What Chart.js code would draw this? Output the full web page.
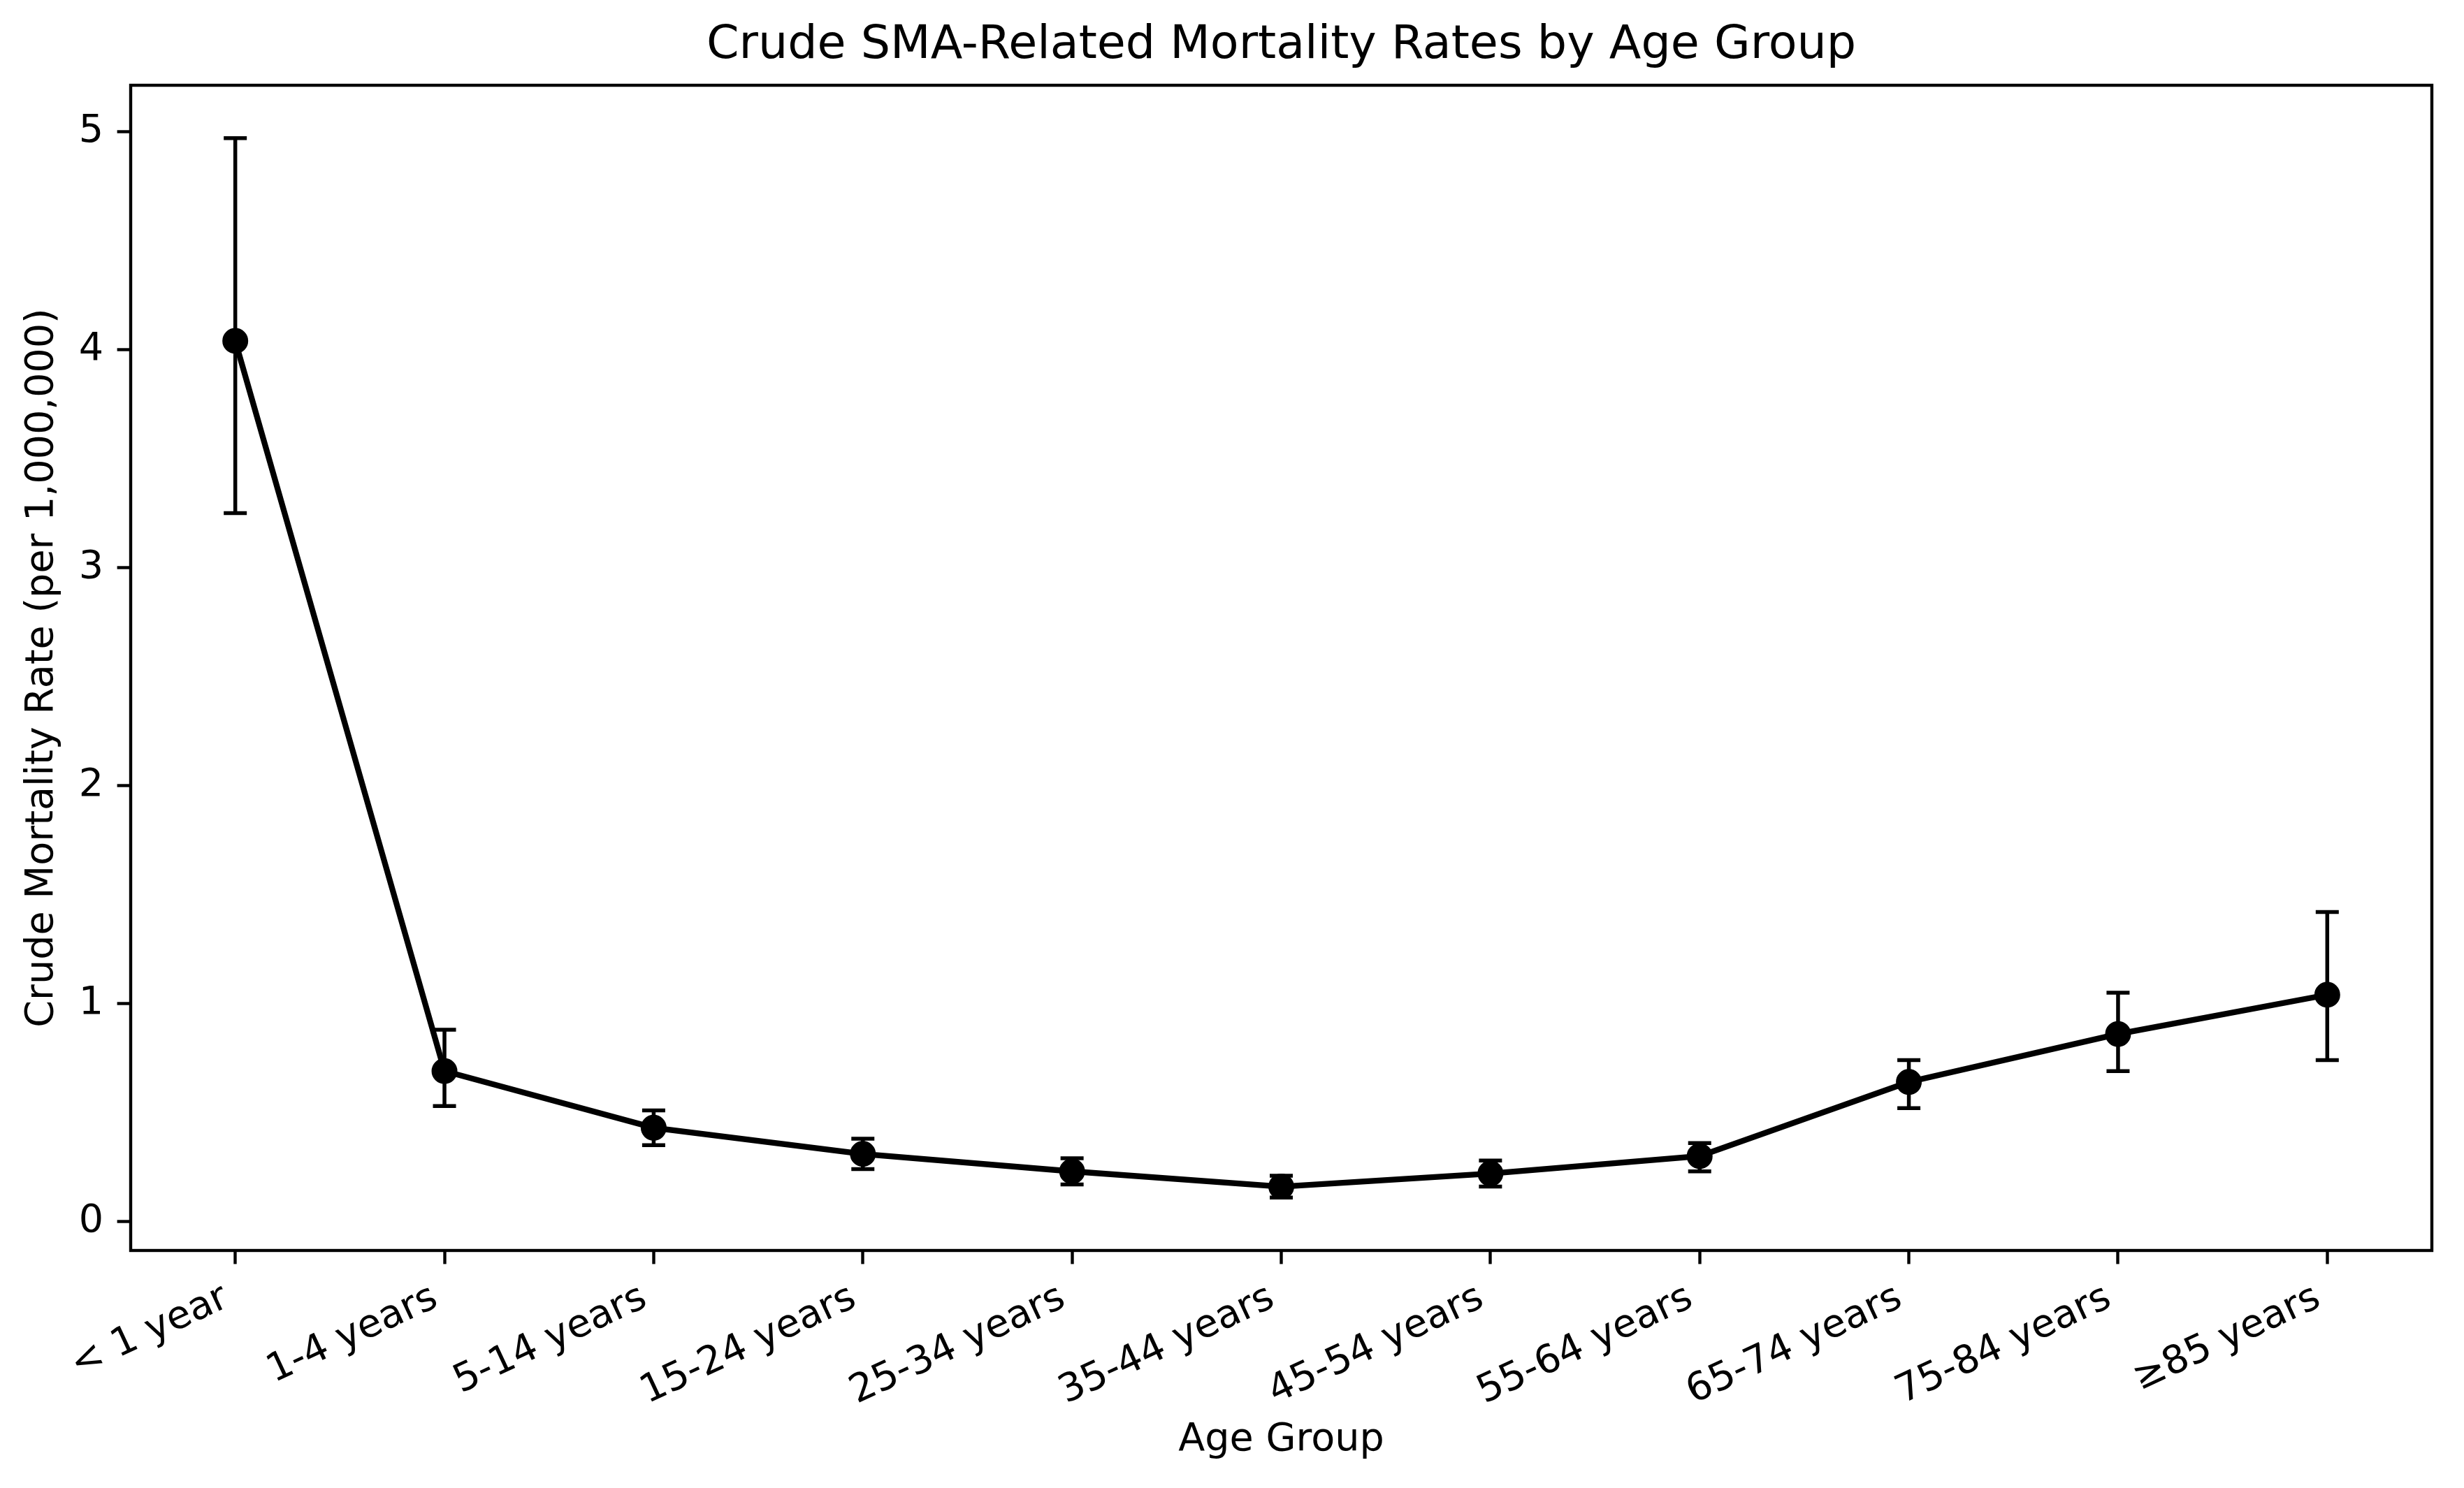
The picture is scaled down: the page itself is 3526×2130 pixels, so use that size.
<!DOCTYPE html>
<html>
<head>
<meta charset="utf-8">
<title>Crude SMA-Related Mortality Rates by Age Group</title>
<script src="https://cdn.jsdelivr.net/npm/chart.js@4.4.1/dist/chart.umd.min.js"></script>
<style>
  html, body { margin: 0; padding: 0; background: #fff; }
  #wrap { width: 3526px; height: 2130px; }
</style>
</head>
<body>
<div id="wrap"><canvas id="rateChart"></canvas></div>
<script>
// values
const ageGroups = ['< 1 year', '1-4 years', '5-14 years', '15-24 years', '25-34 years', '35-44 years',
                   '45-54 years', '55-64 years', '65-74 years', '75-84 years', '\u226585 years'];
const crudeRate = [4.04, 0.69, 0.43, 0.31, 0.23, 0.16, 0.22, 0.30, 0.64, 0.86, 1.04];
const lowerCI   = [3.25, 0.53, 0.35, 0.24, 0.17, 0.11, 0.16, 0.23, 0.52, 0.69, 0.74];
const upperCI   = [4.97, 0.88, 0.51, 0.38, 0.29, 0.21, 0.28, 0.36, 0.74, 1.05, 1.42];
const yTicks = [0, 1, 2, 3, 4, 5];

const FONT = "'DejaVu Sans', sans-serif";
Chart.defaults.font.family = FONT;
Chart.defaults.color = '#000';

// axis limits like matplotlib: 5% margin around the error bars
const lo = Math.min(...lowerCI);
const hi = Math.max(...upperCI);
const yPad = (hi - lo) * 0.05;

// error bars with caps, drawn under the line and markers
const errorBars = {
  id: 'errorBars',
  beforeDatasetsDraw(chart) {
    const { ctx, scales: { x, y } } = chart;
    const cap = 16.5;
    ctx.save();
    ctx.strokeStyle = '#000';
    ctx.lineWidth = 5.5;
    ageGroups.forEach((g, i) => {
      const px = x.getPixelForValue(i);
      const top = y.getPixelForValue(upperCI[i]);
      const bot = y.getPixelForValue(lowerCI[i]);
      ctx.beginPath();
      ctx.moveTo(px, top); ctx.lineTo(px, bot);
      ctx.moveTo(px - cap, top); ctx.lineTo(px + cap, top);
      ctx.moveTo(px - cap, bot); ctx.lineTo(px + cap, bot);
      ctx.stroke();
    });
    ctx.restore();
  }
};

// box around the plot area
const frame = {
  id: 'frame',
  afterDraw(chart) {
    const { ctx, chartArea: a } = chart;
    ctx.save();
    ctx.strokeStyle = '#000';
    ctx.lineWidth = 4.4;
    ctx.strokeRect(a.left, a.top, a.right - a.left, a.bottom - a.top);
    ctx.restore();
  }
};

const tickGrid = {
  display: true,
  drawOnChartArea: false,
  drawTicks: true,
  tickLength: 19.4,
  tickWidth: 4.4,
  tickColor: '#000',
  offset: false
};

new Chart(document.getElementById('rateChart'), {
  type: 'line',
  data: {
    labels: ageGroups,
    datasets: [{
      data: crudeRate,
      borderColor: '#000',
      backgroundColor: '#000',
      borderWidth: 8.3,
      pointRadius: 16,
      pointBorderWidth: 5,
      pointBackgroundColor: '#000',
      pointBorderColor: '#000',
      tension: 0,
      fill: false,
      clip: false
    }]
  },
  options: {
    responsive: true,
    maintainAspectRatio: false,
    animation: false,
    devicePixelRatio: 1,
    layout: { padding: { left: 0, right: 46, top: 0, bottom: 0 } },
    plugins: {
      legend: { display: false },
      tooltip: { enabled: false },
      title: {
        display: true,
        fullSize: false,   // centre over the plot area, not the canvas
        text: 'Crude SMA-Related Mortality Rates by Age Group',
        color: '#000',
        font: { family: FONT, size: 66.7, weight: 'normal', lineHeight: 1.2 },
        padding: { top: 26, bottom: 16 }
      }
    },
    scales: {
      x: {
        type: 'category',
        offset: true,
        border: { display: false },
        grid: tickGrid,
        ticks: {
          autoSkip: false,
          minRotation: 25,
          maxRotation: 25,
          padding: 16,
          labelOffset: -13,
          color: '#000',
          font: { family: FONT, size: 55.6 }
        },
        title: {
          display: true,
          text: 'Age Group',
          color: '#000',
          font: { family: FONT, size: 55.6, lineHeight: 1.2 },
          padding: { top: 0, bottom: 34.6 }
        },
        afterFit(scale) { scale.height = 340; }
      },
      y: {
        min: lo - yPad,
        max: hi + yPad,
        border: { display: false },
        grid: tickGrid,
        afterBuildTicks(scale) { scale.ticks = yTicks.map(v => ({ value: v })); },
        ticks: {
          padding: 19.4,
          color: '#000',
          font: { family: FONT, size: 55.6 }
        },
        title: {
          display: true,
          text: 'Crude Mortality Rate (per 1,000,000)',
          color: '#000',
          font: { family: FONT, size: 55.6, lineHeight: 1.2 },
          padding: { top: 27.6, bottom: 0 }
        },
        afterFit(scale) { scale.width = 187; }
      }
    }
  },
  plugins: [errorBars, frame]
});
</script>
</body>
</html>
